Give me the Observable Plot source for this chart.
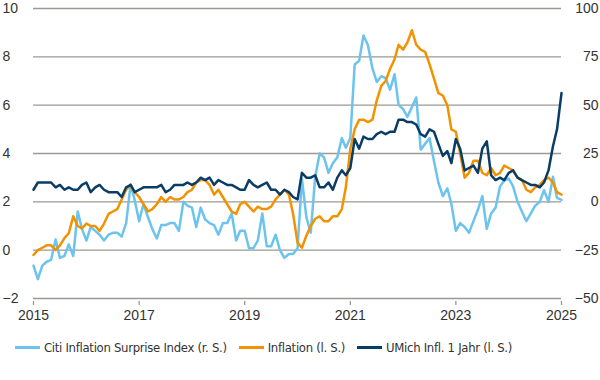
<!DOCTYPE html>
<html><head><meta charset="utf-8">
<script src="https://cdn.jsdelivr.net/npm/d3@7"></script>
<script src="https://cdn.jsdelivr.net/npm/@observablehq/plot@0.6"></script>
<style>
body{margin:0;background:#fff;}
#chart{width:600px;height:380px;position:relative;}
.legend{position:absolute;left:15px;top:340px;display:flex;align-items:center;font-family:"DejaVu Sans Condensed","Liberation Sans",sans-serif;font-size:13px;letter-spacing:-0.3px;color:#333;white-space:nowrap}
.item{display:flex;align-items:center;margin-right:12px}
.sw{width:25px;height:3px;margin-right:4px}
</style></head><body>
<div id="chart"></div>
<script>
const startMonth = "2015-04-01";
const yearLabels = ["2015","2017","2019","2021","2023","2025"];
const leftTicks = [-2,0,2,4,6,8,10];
const rightTicks = [-50,-25,0,25,50,75,100];
const seriesNames = ["Citi Inflation Surprise Index (r. S.)","Inflation (l. S.)","UMich Infl. 1 Jahr (l. S.)"];
const colors = ["#6cc4ee","#f39200","#0a3d66"];

const inflation = [
 -0.2,0.0,0.1,0.2,0.2,0.0,0.2,0.5,0.7,
 1.4,1.0,0.9,1.1,1.0,1.0,0.8,1.1,1.5,1.6,1.7,2.1,
 2.5,2.7,2.4,2.2,1.9,1.6,1.7,1.9,2.2,2.0,2.2,2.1,
 2.1,2.2,2.4,2.5,2.8,2.9,2.9,2.7,2.3,2.5,2.2,1.9,
 1.6,1.5,1.9,2.0,1.8,1.6,1.8,1.7,1.7,1.8,2.1,2.3,
 2.5,2.3,1.5,0.3,0.1,0.6,1.0,1.3,1.4,1.2,1.2,1.4,
 1.4,1.7,2.6,4.2,5.0,5.4,5.4,5.3,5.4,6.2,6.8,7.0,
 7.5,7.9,8.5,8.3,8.6,9.1,8.5,8.3,8.2,7.7,7.1,6.5,
 6.4,6.0,5.0,4.9,4.0,3.0,3.2,3.7,3.7,3.2,3.1,3.4,
 3.1,3.2,3.5,3.4,3.3,3.0,2.9,2.5,2.4,2.6,2.7,2.9,
 3.0,2.8,2.4,2.3
];
const umich = [
 2.5,2.8,2.8,2.8,2.8,2.6,2.7,2.5,2.6,
 2.5,2.5,2.7,2.8,2.4,2.6,2.7,2.5,2.4,2.4,2.4,2.2,
 2.6,2.7,2.4,2.5,2.6,2.6,2.6,2.6,2.7,2.4,2.5,2.7,
 2.7,2.7,2.8,2.7,2.8,3.0,2.9,3.0,2.7,2.9,2.8,2.7,
 2.7,2.6,2.5,2.5,2.9,2.7,2.6,2.7,2.8,2.5,2.5,2.3,
 2.5,2.4,2.2,2.1,3.2,3.0,3.0,3.1,2.6,2.6,2.8,2.5,
 3.0,3.3,3.1,3.4,4.6,4.2,4.7,4.6,4.6,4.8,4.9,4.8,
 4.9,4.9,5.4,5.4,5.3,5.3,5.2,4.8,4.7,5.0,4.9,4.4,
 3.9,4.1,3.6,4.6,4.2,3.3,3.4,3.5,3.2,4.2,4.5,3.1,
 2.9,3.0,2.9,3.2,3.3,3.0,2.9,2.8,2.7,2.7,2.6,2.8,
 3.3,4.3,5.0,6.5
];
const citi = [
 -33,-40,-33,-31,-30,-19.5,-29,-28,-22,-28,
 -5,-14,-20,-13,-15,-17,-20,-17,-16,-16,
 -18,-11,9,1,-10,-1,-8,-14,-19,-12,
 -12,-11,-11,-15,0,-2,-3,-13,-3,-9,
 -11,-12,-17,-11,-11,-6,-20,-15,-15,-24,
 -24,-20,-6,-23,-23,-17,-25,-29,-27,-27,
 -24,12,-8,-16,13,25,23,15,20,23,
 33,28,33,71,73,86,81,69,62,65,
 64,58,66,50,48,44,49,54,27,30,
 33,21,10,3,7,-1,-15,-11,-13,-16,
 -10,-4,3,-14,-6,-3,8,11,12,8,
 0,-5,-10,-6,-2,0,6,0,13,2,
 1
];

const start = new Date(startMonth);
const dates = inflation.map((_, i) => d3.utcMonth.offset(start, i));
// right axis (Citi) mapped onto left scale: right = (left - 2) * 12.5
const toLeft = r => r / 12.5 + 2;
const data = [
  ...citi.map((v, i) => ({date: dates[i], value: toLeft(v), series: seriesNames[0]})),
  ...inflation.map((v, i) => ({date: dates[i], value: v, series: seriesNames[1]})),
  ...umich.map((v, i) => ({date: dates[i], value: v, series: seriesNames[2]}))
];
const xTicks = yearLabels.map((_, i) => d3.utcMonth.offset(start, i * 24));
const minus = d => d < 0 ? "\u2212" + Math.abs(d) : String(d);
const grid = "#9b9991";

const chart = Plot.plot({
  width: 600, height: 330,
  marginTop: 8, marginBottom: 32, marginLeft: 33, marginRight: 39,
  style: {fontFamily: "'Liberation Sans', sans-serif", fontSize: "14px", color: "#333", background: "#fff"},
  x: {type: "utc", domain: [dates[0], dates[dates.length - 1]], label: null},
  y: {domain: [-2, 10], label: null, axis: null},
  color: {domain: seriesNames, range: colors},
  marks: [
    Plot.gridY(leftTicks, {stroke: grid, strokeOpacity: 1, strokeWidth: 1.3}),
    Plot.text(leftTicks, {y: d => d, text: minus, frameAnchor: "left", textAnchor: "start", dx: -31, fill: "#333"}),
    Plot.text(leftTicks, {y: d => d, text: (d, i) => minus(rightTicks[i]), frameAnchor: "right", textAnchor: "end", dx: 37, fill: "#333"}),
    Plot.axisX(xTicks, {tickSize: 4, stroke: grid, strokeWidth: 1.3, dy: 3, label: null,
      tickFormat: d => yearLabels[xTicks.findIndex(t => +t === +d)]}),
    Plot.lineY(data, {x: "date", y: "value", stroke: "series", strokeWidth: 2.5})
  ]
});
const root = document.getElementById("chart");
root.appendChild(chart);
const legend = document.createElement("div");
legend.className = "legend";
seriesNames.forEach((name, i) => {
  const item = document.createElement("div");
  item.className = "item";
  const sw = document.createElement("span");
  sw.className = "sw";
  sw.style.background = colors[i];
  const tx = document.createElement("span");
  tx.textContent = name;
  item.appendChild(sw); item.appendChild(tx);
  legend.appendChild(item);
});
root.appendChild(legend);
</script>
</body></html>
